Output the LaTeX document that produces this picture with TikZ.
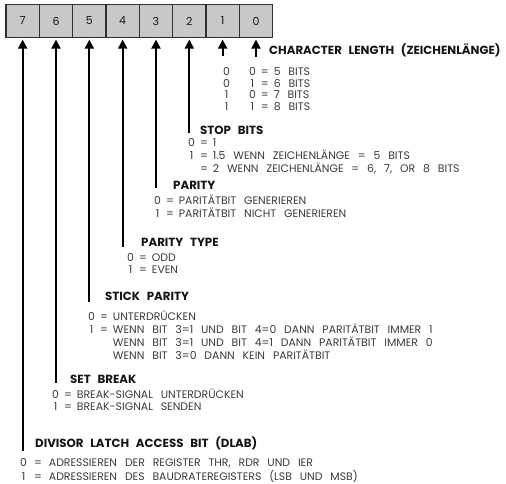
\documentclass[tikz,border=0pt]{standalone}
\usepackage{fontspec}
\setmainfont{Poppins}[WordSpace=2.7]
\usetikzlibrary{arrows.meta,calc}
\definecolor{cellfill}{HTML}{C8C8C8}
\definecolor{cellline}{HTML}{303030}
\definecolor{bodytxt}{HTML}{3A3A3A}
\definecolor{headtxt}{HTML}{151515}
\begin{document}
\begin{tikzpicture}[x=1pt,y=-1pt,
  cell/.style={draw=cellline,fill=cellfill,line width=1.2pt,minimum width=33.33pt,minimum height=33pt,inner sep=0pt,font=\fontsize{11}{12}\selectfont,text=headtxt},
  head/.style={anchor=base west,inner sep=0pt,font=\fontsize{11.8}{13}\selectfont\bfseries,text=headtxt},
  body/.style={anchor=base west,inner sep=0pt,font=\fontsize{10.9}{11.6}\selectfont,text=bodytxt},
  bitarrow/.style={line width=2pt,draw=black,-{Triangle[width=9pt,length=9pt]}}
]
\useasboundingbox (0,0) rectangle (506,483);
% register cells
\foreach \i in {0,...,7}{
  \node[cell] (b\i) at ({6+33.33*(7-\i)+16.665},21) {\i};
}
% labels
\node[head] (clen) at (269,54.6) {CHARACTER LENGTH (ZEICHENLÄNGE)};
\node[body] (clent) at (223,75.5) {\begin{tabular}[t]{@{}c@{\hspace{19pt}}c@{\hspace{5pt}}c@{\hspace{5pt}}l@{}}
0 & 0 & = & 5 BITS\\ 0 & 1 & = & 6 BITS\\ 1 & 0 & = & 7 BITS\\ 1 & 1 & = & 8 BITS\end{tabular}};
\node[head] (stop) at (200,134.6) {STOP BITS};
\node[body] (stopt) at (188,146.8) {\begin{tabular}[t]{@{}c@{\hspace{5pt}}c@{\hspace{5pt}}l@{}}
0 & = & 1\\ 1 & = & 1.5 WENN ZEICHENLÄNGE = 5 BITS\\ & = & 2 WENN ZEICHENLÄNGE = 6, 7, OR 8 BITS\end{tabular}};
\node[head] (par) at (173,189) {PARITY};
\node[body] (part) at (154,204.5) {\begin{tabular}[t]{@{}c@{\hspace{5pt}}c@{\hspace{5pt}}l@{}}
0 & = & PARITÄTBIT GENERIEREN\\ 1 & = & PARITÄTBIT NICHT GENERIEREN\end{tabular}};
\node[head] (ptype) at (141,246.6) {PARITY TYPE};
\node[body] (ptypet) at (127,261.8) {\begin{tabular}[t]{@{}c@{\hspace{5pt}}c@{\hspace{5pt}}l@{}}
0 & = & ODD\\ 1 & = & EVEN\end{tabular}};
\node[head] (stick) at (105,300.6) {STICK PARITY};
\node[body] (stickt) at (88,320.8) {\begin{tabular}[t]{@{}c@{\hspace{5pt}}c@{\hspace{5pt}}l@{}}
0 & = & UNTERDRÜCKEN\\ 1 & = & WENN BIT 3=1 UND BIT 4=0 DANN PARITÄTBIT IMMER 1\\
 & & WENN BIT 3=1 UND BIT 4=1 DANN PARITÄTBIT IMMER 0\\ & & WENN BIT 3=0 DANN KEIN PARITÄTBIT\end{tabular}};
\node[head] (brk) at (70,383) {SET BREAK};
\node[body] (brkt) at (52,398.8) {\begin{tabular}[t]{@{}c@{\hspace{5pt}}c@{\hspace{5pt}}l@{}}
0 & = & BREAK-SIGNAL UNTERDRÜCKEN\\ 1 & = & BREAK-SIGNAL SENDEN\end{tabular}};
\node[head] (dlab) at (35,447.8) {DIVISOR LATCH ACCESS BIT (DLAB)};
\node[body,font=\fontsize{10.9}{10.9}\selectfont] (dlabt) at (20,466.6) {\begin{tabular}[t]{@{}c@{\hspace{7pt}}c@{\hspace{7pt}}l@{}}
0 & = & ADRESSIEREN DER REGISTER THR, RDR UND IER\\ 1 & = & ADRESSIEREN DES BAUDRATEREGISTERS (LSB UND MSB)\end{tabular}};
% line ends
\coordinate (e0) at ($(b0.south)+(0,19)$);
\coordinate (e1) at ($(b1.south)+(0,18)$);
\coordinate (e2) at ($(b2.south)+(0,95)$);
\coordinate (e3) at ($(b3.south)+(0,150)$);
\coordinate (e4) at ($(b4.south)+(0,209)$);
\coordinate (e5) at ($(b5.south)+(0,264)$);
\coordinate (e6) at ($(b6.south)+(0,345)$);
\coordinate (e7) at ($(b7.south)+(0,413)$);
\foreach \i in {0,...,7}{
  \draw[bitarrow] (e\i) -- ($(b\i.south)+(0,1.5)$);
}
\end{tikzpicture}
\end{document}
